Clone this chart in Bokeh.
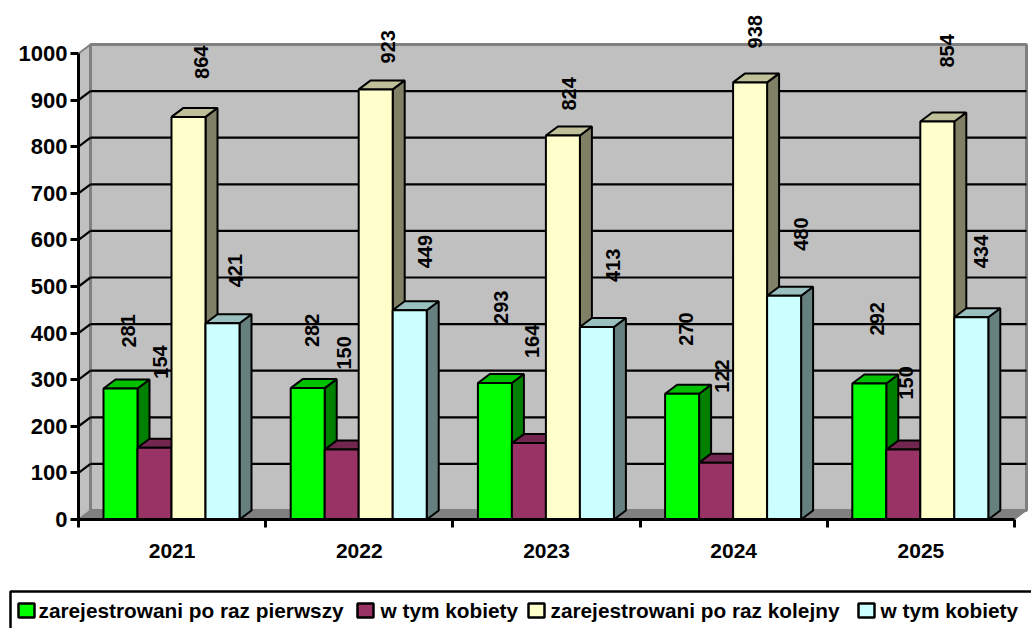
from bokeh.plotting import figure
from bokeh.layouts import column, row
from bokeh.models import ColumnDataSource, FixedTicker, Range1d
from bokeh.core.properties import value
from bokeh.embed import file_html
from bokeh.resources import INLINE

years = ["2021", "2022", "2023", "2024", "2025"]
first_time = [281, 282, 293, 270, 292]
first_women = [154, 150, 164, 122, 150]
repeat_time = [864, 923, 824, 938, 854]
repeat_women = [421, 449, 413, 480, 434]
series_names = ["zarejestrowani po raz pierwszy", "w tym kobiety",
                "zarejestrowani po raz kolejny", "w tym kobiety"]
y_ticks = list(range(0, 1001, 100))

# label placement, px: shift right of bar centre, lift above bar top
label_shift = [[8, 4, 6, 4, 8], [6, 2, 3, 6, 3], [13, 12, 6, 5, 10], [13, 15, 16, 17, 10]]
label_lift = [[41, 41, 59, 48, 48], [69, 80, 85, 70, 50], [38, 26, 25, 34, 54], [36, 42, 45, 45, 49]]

PX_X = 187.2   # px per category
PX_Y = 0.466   # px per value unit
DX = 12 / PX_X  # 3-D depth
DY = 9 / PX_Y
BAR = 34 / PX_X
LEAD = 25 / PX_X

FONT = "Liberation Sans"
p = figure(width=1031, height=580, output_backend="svg", toolbar_location=None,
           min_border_left=78, min_border_right=0, min_border_top=0, min_border_bottom=61,
           x_range=Range1d(0, 953 / PX_X), y_range=Range1d(0, 519 / PX_Y),
           background_fill_color="white", border_fill_color="white", outline_line_color=None)
p.grid.visible = False

n = len(years)
top = y_ticks[-1]
# walls and floor
p.patch([0, DX, DX, 0], [0, DY, top + DY, top], fill_color="#C0C0C0", line_color="#808080", line_width=2)
p.patch([DX, n + DX, n + DX, DX], [DY, DY, top + DY, top + DY], fill_color="#C0C0C0", line_color="#808080", line_width=3)
p.patch([0, DX, n + DX, n], [0, DY, DY, 0], fill_color="#808080", line_color="#808080", line_width=1)
grid = y_ticks[1:-1]
p.segment(x0=[DX] * len(grid), y0=[g + DY for g in grid], x1=[n + DX] * len(grid), y1=[g + DY for g in grid],
          line_color="black", line_width=2.2)
p.segment(x0=[0] * len(grid), y0=grid, x1=[DX] * len(grid), y1=[g + DY for g in grid],
          line_color="black", line_width=2.2)

series = [first_time, first_women, repeat_time, repeat_women]
colors = [("#00FF00", "#00C000", "#008000"), ("#993366", "#732650", "#4D1A33"),
          ("#FFFFCC", "#BFBF99", "#808066"), ("#CCFFFF", "#99BFBF", "#668080")]
for s, vals in enumerate(series):
    front, tp, side = colors[s]
    lefts = [i + LEAD + s * BAR for i in range(n)]
    rights = [l + BAR for l in lefts]
    p.patches([[r, r + DX, r + DX, r] for r in rights],
              [[0, DY, v + DY, v] for v in vals],
              fill_color=side, line_color="black", line_width=2)
    p.patches([[l, l + DX, r + DX, r] for l, r in zip(lefts, rights)],
              [[v, v + DY, v + DY, v] for v in vals],
              fill_color=tp, line_color="black", line_width=2)
    p.quad(left=lefts, right=rights, bottom=[0] * n, top=vals,
           fill_color=front, line_color="black", line_width=2)

for s, vals in enumerate(series):
    src = ColumnDataSource(dict(
        x=[i + LEAD + (s + 0.5) * BAR for i in range(n)], y=vals,
        t=[str(v) for v in vals], dx=label_shift[s], dy=[-v for v in label_lift[s]]))
    p.text(x="x", y="y", text="t", x_offset="dx", y_offset="dy", source=src, angle=1.5708,
           text_align="left", text_baseline="middle", text_font=value(FONT),
           text_font_style="bold", text_font_size="20px", text_color="black")

# axes
ya = p.yaxis[0]
ya.ticker = FixedTicker(ticks=y_ticks)
ya.bounds = (0, top)
ya.major_tick_in = 0
ya.major_tick_out = 8
ya.minor_tick_line_color = None
ya.axis_line_width = 3
ya.major_tick_line_width = 3
ya.major_label_standoff = 3
ya.major_label_text_font = FONT
ya.major_label_text_font_style = "bold"
ya.major_label_text_font_size = "22px"
ya.major_label_text_color = "black"

xa = p.xaxis[0]
centers = [i + 0.5 for i in range(n)]
xa.ticker = FixedTicker(ticks=centers, minor_ticks=list(range(n + 1)))
xa.major_label_overrides = {c: y for c, y in zip(centers, years)}
xa.bounds = (0, n)
xa.major_tick_line_color = None
xa.major_tick_in = 0
xa.major_tick_out = 0
xa.minor_tick_in = 0
xa.minor_tick_out = 8
xa.minor_tick_line_width = 3
xa.minor_tick_line_color = "black"
xa.axis_line_width = 3
xa.major_label_standoff = 16
xa.major_label_text_font = FONT
xa.major_label_text_font_style = "bold"
xa.major_label_text_font_size = "21px"
xa.major_label_text_color = "black"

# legend strip, in a small figure of its own, addressed in pixels
swatch_left = [18, 357, 528, 858]
text_left = [38, 380, 550, 880]
swatch_fill = [c[0] for c in colors]
lg = figure(width=1031, height=48, output_backend="svg", toolbar_location=None,
            min_border=0, x_range=Range1d(0, 1031), y_range=Range1d(48, 0),
            x_axis_location=None, y_axis_location=None,
            background_fill_color="white", border_fill_color="white", outline_line_color=None)
lg.grid.visible = False
lg.quad(left=[10], right=[1040], top=[11], bottom=[60], fill_color="white",
        line_color="black", line_width=2.5)
lg.quad(left=swatch_left, right=[x + 16 for x in swatch_left], top=[23] * 4, bottom=[37] * 4,
        fill_color=swatch_fill, line_color="black", line_width=2.5)
lg.text(x=text_left, y=[30] * 4, text=series_names, text_align="left", text_baseline="middle",
        text_font=value(FONT), text_font_style="bold", text_font_size="20.8px", text_color="black")

page = column(p, row(lg), spacing=0)
open("out.html", "w").write(file_html(page, INLINE))
